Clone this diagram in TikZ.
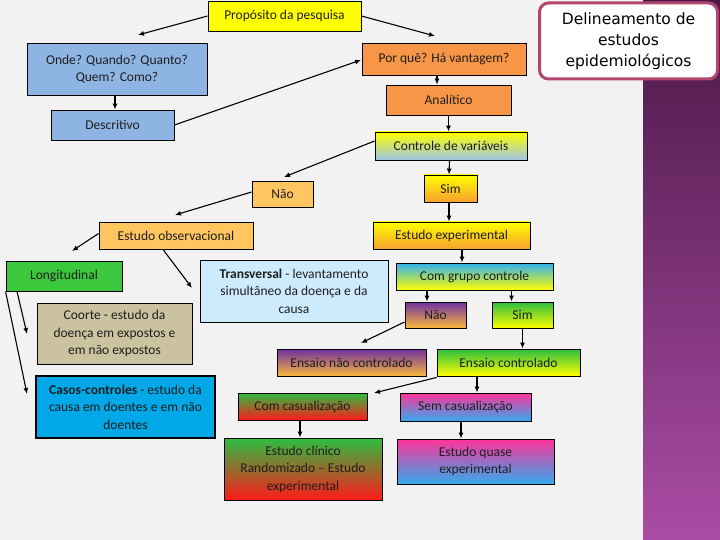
\documentclass[tikz,border=0pt]{standalone}
\usepackage{fontspec}
\setmainfont{Carlito}
\newfontfamily\titlefont{DejaVu Sans}
\usetikzlibrary{arrows.meta}
\definecolor{bgc}{HTML}{F2F2F2}
\definecolor{purTop}{HTML}{4A1846}
\definecolor{purBot}{HTML}{AA4CA5}
\definecolor{titleB}{HTML}{B3466F}
\definecolor{ylw}{HTML}{FFFF00}
\definecolor{bluA}{HTML}{8DB4E2}
\definecolor{orgA}{HTML}{F79646}
\definecolor{orgL}{HTML}{FFC660}
\definecolor{orgG}{HTML}{F7A030}
\definecolor{bluC}{HTML}{9DC3E6}
\definecolor{grnL}{HTML}{3CC83C}
\definecolor{bluT}{HTML}{CDEBFC}
\definecolor{khk}{HTML}{CBC2A0}
\definecolor{bluK}{HTML}{00A8E8}
\definecolor{skyB}{HTML}{30B0EE}
\definecolor{prp}{HTML}{7030A0}
\definecolor{orY}{HTML}{F9B83C}
\definecolor{grn}{HTML}{2CBE40}
\definecolor{red}{HTML}{FF1A1A}
\definecolor{pnk}{HTML}{FF3399}
\definecolor{bluS}{HTML}{33AAEE}
\definecolor{txt}{HTML}{1E1E1E}
\tikzset{
  box/.style={draw=black, line width=0.9pt, inner sep=0pt, align=center, text=txt,
    font=\fontsize{13.5}{17.5}\selectfont},
  flat/.style={box, fill=#1},
  grad/.style 2 args={box, top color=#1, bottom color=#2},
  arr/.style={-{Latex[length=6pt,width=5pt]}, line width=1.1pt},
}
\begin{document}
\begin{tikzpicture}[x=1pt,y=-1pt]
\useasboundingbox (0,0) rectangle (720,540);
\fill[bgc] (0,0) rectangle (643,540);
\shade[top color=purTop, bottom color=purBot] (643,0) rectangle (720,540);
\node[draw=titleB, line width=3pt, rounded corners=9pt, fill=white, minimum width=178pt,
  minimum height=76pt, inner sep=0pt, align=center,
  font=\titlefont\fontsize{15.5}{21}\selectfont] (title) at (628.5,41)
  {Delineamento de\\estudos\\epidemiológicos};

% nodes
\node[flat=ylw, minimum width=153pt, minimum height=30pt] (prop) at (284.5,16) {Propósito da pesquisa};
\node[flat=bluA, minimum width=180pt, minimum height=52pt] (onde) at (117,69) {Onde? Quando? Quanto?\\Quem? Como?};
\node[flat=bluA, minimum width=123pt, minimum height=30pt] (desc) at (112.5,125) {Descritivo};
\node[flat=orgA, minimum width=164pt, minimum height=32pt] (porq) at (444,59) {Por quê? Há vantagem?};
\node[flat=orgA, minimum width=125pt, minimum height=30pt] (anal) at (448.5,100) {Analítico};
\node[grad={ylw}{bluC}, minimum width=152pt, minimum height=28pt] (contr) at (451,146) {Controle de variáveis};
\node[flat=orgL, minimum width=61pt, minimum height=26pt] (nao1) at (282.5,194) {Não};
\node[grad={ylw}{orgG}, minimum width=53pt, minimum height=27pt] (sim1) at (450.5,188.5) {Sim};
\node[flat=orgL, minimum width=154pt, minimum height=27pt] (obs) at (176,235.5) {Estudo observacional};
\node[grad={ylw}{orgG}, minimum width=157pt, minimum height=27pt] (exp) at (451.5,235.5) {Estudo experimental};
\node[flat=grnL, minimum width=116pt, minimum height=30pt] (long) at (64,276) {Longitudinal};
\node[flat=bluT, minimum width=188pt, minimum height=62pt] (trans) at (294,291)
  {\textbf{Transversal} - levantamento\\simultâneo da doença e da\\causa};
\node[flat=khk, minimum width=155pt, minimum height=61pt] (coorte) at (114.5,333.5)
  {Coorte - estudo da\\doença em expostos e\\em não expostos};
\node[flat=bluK, line width=1.6pt, minimum width=179pt, minimum height=62pt] (casos) at (125.5,407)
  {\textbf{Casos-controles} - estudo da\\causa em doentes e em não\\doentes};
\node[grad={skyB}{ylw}, minimum width=157pt, minimum height=27pt] (cgc) at (474.5,276.5) {Com grupo controle};
\node[grad={prp}{orY}, minimum width=61pt, minimum height=26pt] (nao2) at (435.5,315) {Não};
\node[grad={grn}{ylw}, minimum width=61pt, minimum height=26pt] (sim2) at (522.5,315) {Sim};
\node[grad={prp}{orY}, minimum width=149pt, minimum height=27pt] (enc) at (351.5,362.5) {Ensaio não controlado};
\node[grad={grn}{ylw}, minimum width=143pt, minimum height=27pt] (ec) at (508.5,362.5) {Ensaio controlado};
\node[grad={grn}{red}, minimum width=129pt, minimum height=27pt] (comc) at (302.5,406.5) {Com casualização};
\node[grad={pnk}{bluS}, minimum width=131pt, minimum height=28pt] (semc) at (465.5,407) {Sem casualização};
\node[grad={grn}{red}, minimum width=158pt, minimum height=62pt] (ecr) at (303,469)
  {Estudo clínico\\Randomizado -- Estudo\\experimental};
\node[grad={pnk}{bluS}, minimum width=157pt, minimum height=45pt] (eqe) at (475.5,461.5)
  {Estudo quase\\experimental};

% free arrow ends
\coordinate (c1) at (138,35);
\coordinate (c2) at (361,60);
\coordinate (c3) at (435,36);
\coordinate (c7) at (284,177);
\coordinate (c10) at (175,215);
\coordinate (c12) at (72,251);
\coordinate (c13) at (192,288);
\coordinate (c14) at (27,334);
\coordinate (c15) at (27,394);
\coordinate (c18) at (361,343);
\coordinate (c20) at (374,393);

% connectors
\draw[arr] (prop.west) -- (c1);
\draw[arr] (desc.east) -- (c2);
\draw[arr] (prop.east) -- (c3);
\draw[arr] ([xshift=2.5pt]desc.north |- onde.south) -- ([xshift=2.5pt]desc.north);
\draw[arr] ([xshift=-7pt]porq.south) -- ([xshift=-11.5pt]anal.north);
\draw[arr] (anal.south) -- (anal.south |- contr.north);
\draw[arr] ([yshift=5pt]contr.west) -- (c7);
\draw[arr] ([xshift=-1.5pt]contr.south) -- ([xshift=-1.5pt]sim1.north);
\draw[arr] ([xshift=-1.5pt]sim1.south) -- ([xshift=-1.5pt]sim1.south |- exp.north);
\draw[arr] ([yshift=2pt]nao1.west) -- (c10);
\draw[arr] ([yshift=2pt]obs.west) -- (c12);
\draw[arr] ([xshift=-13pt]obs.south) -- (c13);
\draw[arr] ([xshift=10.5pt]exp.south) -- ([xshift=10.5pt]exp.south |- cgc.north);
\draw[arr] ([xshift=-47pt]long.south) -- (c14);
\draw[arr] (long.south west) -- (c15);
\draw[arr] ([xshift=-8.5pt]nao2.north |- cgc.south) -- ([xshift=-8.5pt]nao2.north);
\draw[arr] ([xshift=-11pt]sim2.north |- cgc.south) -- ([xshift=-11pt]sim2.north);
\draw[arr] ([yshift=-7pt]nao2.west) -- (c18);
\draw[arr] (sim2.south) -- (sim2.south |- ec.north);
\draw[arr] ([yshift=-1pt]ec.south west) -- (c20);
\draw[arr] ([xshift=-31.5pt]ec.south) -- ([xshift=-31.5pt]ec.south |- semc.north);
\draw[arr] ([xshift=-2.5pt]comc.south) -- ([xshift=-2.5pt]comc.south |- ecr.north);
\draw[arr] ([xshift=-4.5pt]semc.south) -- ([xshift=-4.5pt]semc.south |- eqe.north);
\end{tikzpicture}
\end{document}
